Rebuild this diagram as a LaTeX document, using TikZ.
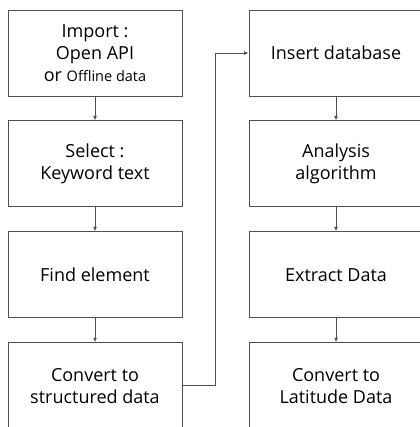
\documentclass[tikz,border=0pt]{standalone}
\usepackage{fontspec}
\setmainfont{Open Sans}
\usetikzlibrary{positioning,arrows.meta}
\definecolor{boxline}{HTML}{505050}
\tikzset{
    stepbox/.style={draw=boxline, line width=0.9pt, minimum width=174pt, minimum height=86pt,
        align=center, font=\fontsize{18pt}{22pt}\selectfont, inner sep=0pt},
    flow/.style={draw=boxline, line width=0.9pt, -{Latex[length=4.5pt,width=4pt]}}
}
\begin{document}
\begin{tikzpicture}[x=1pt, y=1pt]
        \useasboundingbox (0, 0) rectangle (419, -427);
        % left column
        \node[stepbox] (import) at (95, -53) {Import :\\Open API\\or {\fontsize{14.5pt}{22pt}\selectfont Offline data}};
        \node[stepbox, below=24pt of import] (select) {Select :\\Keyword text};
        \node[stepbox, below=24pt of select] (find) {Find element};
        \node[stepbox, below=24pt of find] (convert) {Convert to\\structured data};
        % right column
        \node[stepbox] (insert) at (336, -53) {Insert database};
        \node[stepbox, below=24pt of insert] (analysis) {Analysis\\algorithm};
        \node[stepbox, below=24pt of analysis] (extract) {Extract Data};
        \node[stepbox, below=24pt of extract] (latitude) {Convert to\\Latitude Data};

        \draw[flow] (import) -- (select);
        \draw[flow] (select) -- (find);
        \draw[flow] (find) -- (convert);
        \draw[flow] (convert.east) -- ++(33, 0) |- (insert.west);
        \draw[flow] (insert) -- (analysis);
        \draw[flow] (analysis) -- (extract);
        \draw[flow] (extract) -- (latitude);
    \end{tikzpicture}
\end{document}
